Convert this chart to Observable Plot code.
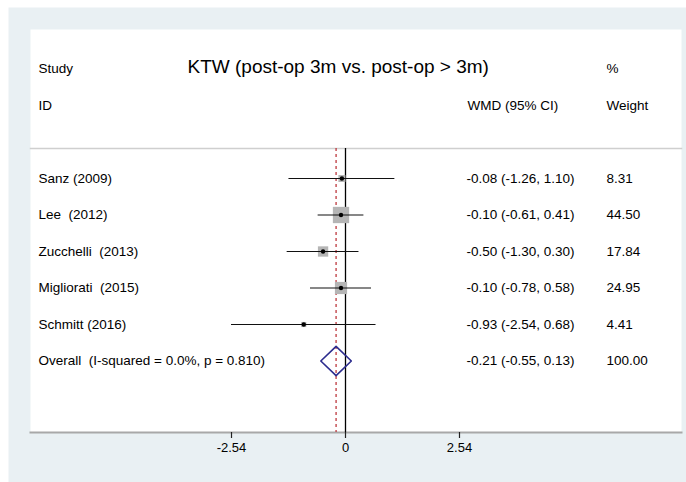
<!DOCTYPE html>
<html>
<head>
<meta charset="utf-8">
<script src="https://cdn.jsdelivr.net/npm/d3@7"></script>
<script src="https://cdn.jsdelivr.net/npm/@observablehq/plot@0.6"></script>
<style>
  html, body { margin: 0; padding: 0; background: #ffffff; }
  svg text { white-space: pre; }
</style>
</head>
<body>
<div id="chart"></div>
<script>
// ---- data ----
const studies = ["Sanz (2009)", "Lee  (2012)", "Zucchelli  (2013)", "Migliorati  (2015)", "Schmitt (2016)"];
const wmd     = [-0.08, -0.10, -0.50, -0.10, -0.93];
const lower   = [-1.26, -0.61, -1.30, -0.78, -2.54];
const upper   = [ 1.10,  0.41,  0.30,  0.58,  0.68];
const weights = [ 8.31, 44.50, 17.84, 24.95,  4.41];
const overallLabel = "Overall  (I-squared = 0.0%, p = 0.810)";
const overallEst = -0.21, overallLo = -0.55, overallHi = 0.13, overallWeight = 100.00;
const tickValues = [-2.54, 0, 2.54];
const tickLabels = ["-2.54", "0", "2.54"];
const title = "KTW (post-op 3m vs. post-op > 3m)";
const headerTop = ["Study", "%"];
const headerBottom = ["ID", "WMD (95% CI)", "Weight"];

// ---- tables ----
const rows = studies.map((s, i) => ({
  row: i, label: s, est: wmd[i], lo: lower[i], hi: upper[i], w: weights[i],
  ci: `${wmd[i].toFixed(2)} (${lower[i].toFixed(2)}, ${upper[i].toFixed(2)})`,
  wt: weights[i].toFixed(2)
}));
const overallRow = studies.length;
const allText = [...rows, {
  row: overallRow, label: overallLabel,
  ci: `${overallEst.toFixed(2)} (${overallLo.toFixed(2)}, ${overallHi.toFixed(2)})`,
  wt: overallWeight.toFixed(2)
}];
const dh = 0.4;
const diamond = [
  {x: overallLo, y: overallRow},
  {x: overallEst, y: overallRow - dh},
  {x: overallHi, y: overallRow},
  {x: overallEst, y: overallRow + dh},
  {x: overallLo, y: overallRow}
];

const font = "Liberation Sans, Arial, Helvetica, sans-serif";
const W = 686, H = 482;
const mL = 30, mT = 29, mR = 5, mB = 50;
const pxPerUnit = 44.88, zeroPx = 345;
const rowPx = 36.5, row0Px = 178;
const ink = "#000";

const chart = Plot.plot({
  width: W, height: H,
  marginLeft: mL, marginTop: mT, marginRight: mR, marginBottom: mB,
  style: {fontFamily: font, background: "transparent", overflow: "visible"},
  x: {domain: [(mL - zeroPx) / pxPerUnit, (W - mR - zeroPx) / pxPerUnit], axis: null},
  y: {domain: [(mT - row0Px) / rowPx, (H - mB - row0Px) / rowPx], reverse: true, axis: null},
  r: {type: "sqrt", domain: [0, 44.5], range: [0, 9.2]},
  marks: [
    // outer light background and white panel
    Plot.frame({fill: "#e9f0f3", stroke: null, insetLeft: -22, insetTop: -22, insetRight: -5, insetBottom: -50}),
    Plot.frame({fill: "#ffffff", stroke: null}),
    // header separator
    Plot.frame({anchor: "top", insetTop: 119, stroke: "#cfcfcf", strokeWidth: 1.5}),
    // x axis line
    Plot.frame({anchor: "bottom", stroke: "#a8a8a8", strokeWidth: 2}),
    Plot.axisX(tickValues, {
      tickSize: 6, tickPadding: 4, stroke: "#222", strokeWidth: 1.2, fontSize: 13, fill: ink,
      tickFormat: (d, i) => tickLabels[i]
    }),
    // null line and overall line
    Plot.ruleX([0], {stroke: ink, strokeWidth: 1.3, insetTop: 119}),
    Plot.ruleX([overallEst], {stroke: "#b8282e", strokeWidth: 1.2, strokeDasharray: "3,3", insetTop: 119}),
    // weight squares
    Plot.dot(rows, {x: "est", y: "row", r: "w", symbol: "square", fill: "#b5b5b5", stroke: null}),
    // confidence intervals
    Plot.ruleY(rows, {x1: "lo", x2: "hi", y: "row", stroke: "#111", strokeWidth: 1.2}),
    // point estimates
    Plot.dot(rows, {x: "est", y: "row", r: 2.2, fill: ink, stroke: null}),
    // overall diamond
    Plot.line(diamond, {x: "x", y: "y", stroke: "#2c2c8e", strokeWidth: 1.6}),
    // headers
    Plot.text([headerTop[0]], {frameAnchor: "left", y: [-3], text: d => d, dx: 8, textAnchor: "start", fontSize: 13.5, fill: ink}),
    Plot.text([title], {frameAnchor: "left", y: [-3.05], text: d => d, dx: 157, textAnchor: "start", fontSize: 19, fill: ink}),
    Plot.text([headerTop[1]], {frameAnchor: "left", y: [-3], text: d => d, dx: 576, textAnchor: "start", fontSize: 13.5, fill: ink}),
    Plot.text([headerBottom[0]], {frameAnchor: "left", y: [-2], text: d => d, dx: 8, textAnchor: "start", fontSize: 13.5, fill: ink}),
    Plot.text([headerBottom[1]], {frameAnchor: "left", y: [-2], text: d => d, dx: 437, textAnchor: "start", fontSize: 13.5, fill: ink}),
    Plot.text([headerBottom[2]], {frameAnchor: "left", y: [-2], text: d => d, dx: 576, textAnchor: "start", fontSize: 13.5, fill: ink}),
    // row texts
    Plot.text(allText, {frameAnchor: "left", y: "row", text: "label", dx: 8, textAnchor: "start", fontSize: 13.5, fill: ink}),
    Plot.text(allText, {frameAnchor: "left", y: "row", text: "ci", dx: 436, textAnchor: "start", fontSize: 13.5, fill: ink}),
    Plot.text(allText, {frameAnchor: "left", y: "row", text: "wt", dx: 576, textAnchor: "start", fontSize: 13.5, fill: ink})
  ]
});
document.getElementById("chart").appendChild(chart);
</script>
</body>
</html>
